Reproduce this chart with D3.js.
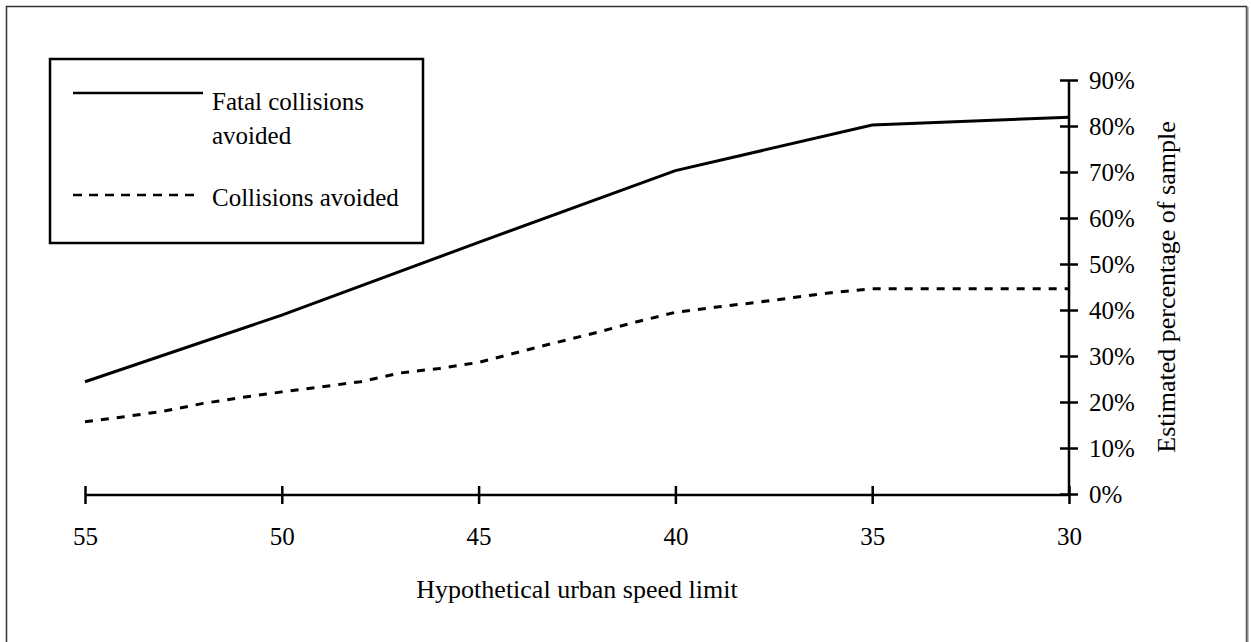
<!DOCTYPE html>
<html>
<head>
<meta charset="utf-8">
<script src="https://cdn.jsdelivr.net/npm/d3@7"></script>
<style>
  html, body { margin: 0; padding: 0; background: #fff; }
  svg { display: block; }
  text { font-family: "Liberation Serif", "Times New Roman", serif; fill: #000; }
</style>
</head>
<body>
<svg id="chart" width="1251" height="642"></svg>
<script>
// ---- data ----
const fatalSpeeds = [55, 50, 45, 40, 35, 30];
const fatalValues = [0.244, 0.389, 0.547, 0.703, 0.802, 0.819];

const collSpeeds = [55, 54, 53, 52, 51, 50, 49, 48, 47, 46, 45, 44, 43, 42, 41, 40, 39, 38, 37, 36, 35, 30];
const collValues = [0.157, 0.168, 0.180, 0.197, 0.210, 0.222, 0.233, 0.244, 0.263, 0.273, 0.286,
                    0.308, 0.330, 0.351, 0.374, 0.395, 0.406, 0.416, 0.427, 0.438, 0.446, 0.446];

const xTicks = [55, 50, 45, 40, 35, 30];
const yTicks = [0, 0.1, 0.2, 0.3, 0.4, 0.5, 0.6, 0.7, 0.8, 0.9];

const seriesNames = ["Fatal collisions avoided", "Collisions avoided"];
const xTitle = "Hypothetical urban speed limit";
const yTitle = "Estimated percentage of sample";

// ---- layout ----
const svg = d3.select("#chart");
const x = d3.scaleLinear().domain([55, 30]).range([85, 1069]);
const y = d3.scaleLinear().domain([0, 0.9]).range([494, 80]);
const axisY = 495;

// outer frame
svg.append("rect")
  .attr("x", 6.5).attr("y", 6.5).attr("width", 1240).attr("height", 660)
  .attr("fill", "none").attr("stroke", "#333").attr("stroke-width", 1.5);
svg.append("line").attr("x1", 1247.5).attr("x2", 1247.5).attr("y1", 7).attr("y2", 642)
  .attr("stroke", "#888").attr("stroke-width", 2);

// x axis
const gx = svg.append("g").attr("transform", `translate(0,${axisY})`)
  .call(d3.axisBottom(x).tickValues(xTicks).tickFormat(d3.format("d")).tickSizeOuter(0).tickPadding(0));
gx.select(".domain").attr("stroke", "#000").attr("stroke-width", 2.5)
  .attr("d", `M${x(55)},0H${x(30)}`);
gx.selectAll(".tick line").attr("y1", -9).attr("y2", 9).attr("stroke", "#000").attr("stroke-width", 2.5);
gx.selectAll(".tick text").attr("y", 50).attr("dy", 0)
  .style("font-size", "25px").style("font-family", "'Liberation Serif', serif").attr("fill", "#000");

// y axis (right)
const gy = svg.append("g").attr("transform", `translate(${x(30)},0)`)
  .call(d3.axisRight(y).tickValues(yTicks).tickFormat(d3.format(".0%")).tickSizeOuter(0));
gy.select(".domain").attr("stroke", "#000").attr("stroke-width", 2.5)
  .attr("d", `M0,${y(0.9)}V${axisY}`);
gy.selectAll(".tick line").attr("x1", -9).attr("x2", 9).attr("stroke", "#000").attr("stroke-width", 2.5);
gy.selectAll(".tick text").attr("x", 20).attr("dy", "0.35em")
  .style("font-size", "25px").style("font-family", "'Liberation Serif', serif").attr("fill", "#000");

// axis titles
svg.append("text").attr("x", 577).attr("y", 598).attr("text-anchor", "middle")
  .style("font-size", "26px").text(xTitle);
svg.append("text").attr("transform", `translate(1175,287) rotate(-90)`).attr("text-anchor", "middle")
  .style("font-size", "26px").text(yTitle);

// lines
const line = d3.line().x(d => x(d[0])).y(d => y(d[1]));
svg.append("path").datum(fatalSpeeds.map((s, i) => [s, fatalValues[i]]))
  .attr("d", line).attr("fill", "none").attr("stroke", "#000").attr("stroke-width", 3);
svg.append("path").datum(collSpeeds.map((s, i) => [s, collValues[i]]))
  .attr("d", line).attr("fill", "none").attr("stroke", "#000").attr("stroke-width", 3)
  .attr("stroke-dasharray", "8,8");

// legend
const lg = svg.append("g");
lg.append("rect").attr("x", 50).attr("y", 59).attr("width", 373).attr("height", 184)
  .attr("fill", "#fff").attr("stroke", "#000").attr("stroke-width", 2.5);
lg.append("line").attr("x1", 73).attr("x2", 203).attr("y1", 93).attr("y2", 93)
  .attr("stroke", "#000").attr("stroke-width", 2.5);
lg.append("line").attr("x1", 73).attr("x2", 195).attr("y1", 195).attr("y2", 195)
  .attr("stroke", "#000").attr("stroke-width", 2.5).attr("stroke-dasharray", "9,7");
lg.append("text").attr("x", 212).attr("y", 110).style("font-size", "25px").text("Fatal collisions");
lg.append("text").attr("x", 212).attr("y", 144).style("font-size", "25px").text("avoided");
lg.append("text").attr("x", 212).attr("y", 206).style("font-size", "25px").text(seriesNames[1]);
</script>
</body>
</html>
